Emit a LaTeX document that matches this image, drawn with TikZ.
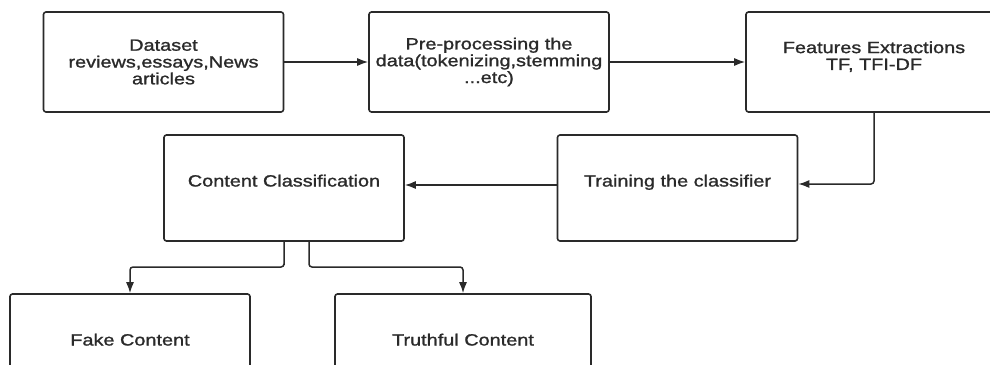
\documentclass[tikz,border=0pt]{standalone}
\usepackage{fontspec}
\newfontfamily\boxfont{Liberation Sans}[FakeStretch=1.22, FakeBold=1.2]
\usetikzlibrary{arrows.meta}
\definecolor{ink}{HTML}{2A2A2A}
\tikzset{
  box/.style={draw=ink, line width=1.6pt, rounded corners=2.5pt, rectangle,
    minimum width=240pt, minimum height=100pt, inner sep=0pt, align=center,
    text=ink, font=\boxfont\fontsize{16.3}{16.8}\selectfont},
  tall/.style={minimum height=106pt},
  conn/.style={draw=ink, line width=1.5pt, rounded corners=3pt,
    -{Latex[length=11pt,width=8pt]}}
}
\begin{document}
\begin{tikzpicture}[x=1pt,y=-1pt]
\useasboundingbox (0,0) rectangle (990,364);
\fill[white] (0,0) rectangle (990,364);
\clip (0,0) rectangle (990,364);
\node[box] (ds) at (163.5,62) {Dataset\\reviews,essays,News\\articles};
\node[box] (pp) at (489,62) {Pre-processing the\\data(tokenizing,stemming\\...etc)};
\node[box, minimum width=256pt] (fe) at (874,62) {Features Extractions\\TF, TFI-DF\\[-4pt]\mbox{}};
\node[box, tall] (tc) at (677.5,188) {Training the classifier\\[-2pt]\mbox{}};
\node[box, tall] (cc) at (284,188) {Content Classification\\[-2pt]\mbox{}};
\node[box, tall] (fk) at (130,347) {Fake Content\\[-2pt]\mbox{}};
\node[box, tall, minimum width=256pt] (tr) at (463,347) {Truthful Content\\[-2pt]\mbox{}};
\coordinate (bend) at (284,267);
\draw[conn] (ds.east) -- (pp.west);
\draw[conn] (pp.east) -- (fe.west);
\draw[conn] (fe.south) |- ([yshift=4pt]tc.east);
\draw[conn] ([yshift=3pt]tc.west) -- ([yshift=3pt]cc.east);
\draw[conn] (cc.south) |- (bend) -| (fk.north);
\draw[conn] ([xshift=25pt]cc.south) |- ([xshift=25pt]bend) -| (tr.north);
\end{tikzpicture}
\end{document}
